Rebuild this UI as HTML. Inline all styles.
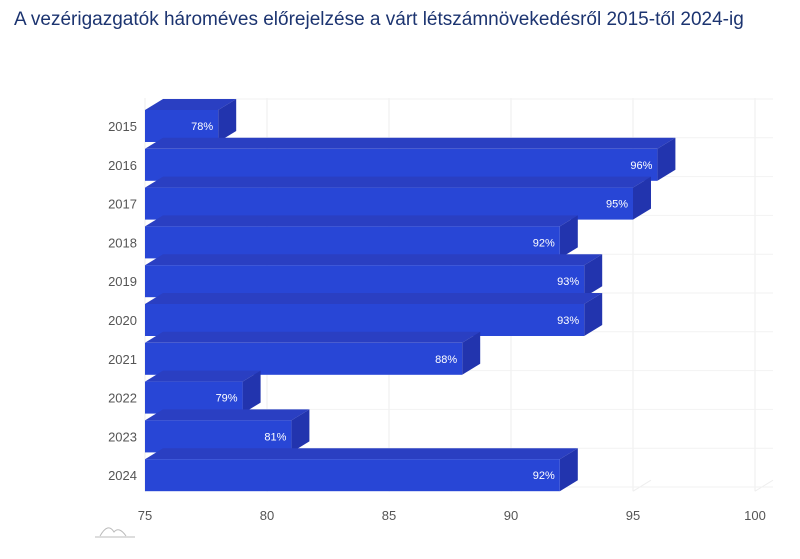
<!DOCTYPE html>
<html><head><meta charset="utf-8"><style>
body{margin:0;background:#fff;width:800px;height:559px;overflow:hidden;font-family:"Liberation Sans",sans-serif}
#title{position:absolute;left:14px;top:9px;font-size:19px;color:#1c3470}
svg{position:absolute;left:0;top:0}
</style></head><body>
<div id="title">A vezérigazgatók hároméves előrejelzése a várt létszámnövekedésről 2015-től 2024-ig</div>
<svg id="chart" width="800" height="559"></svg>
<script>
const categories=["2015","2016","2017","2018","2019","2020","2021","2022","2023","2024"];
const values=[78,96,95,92,93,93,88,79,81,92];
const ticks=[75,80,85,90,95,100];
const NS="http://www.w3.org/2000/svg";
const svg=document.getElementById('chart');
const x0=145,x1=755,vmin=75,vmax=100;
const xs=v=>x0+(v-vmin)/(vmax-vmin)*(x1-x0);
const top0=110,pitch=38.8,bh=32,dx=18,dy=11;
function mk(t,a){const e=document.createElementNS(NS,t);for(const k in a)e.setAttribute(k,a[k]);svg.appendChild(e);return e;}
// grid
ticks.forEach(t=>{
 const g=mk('path',{d:`M${xs(t)},${top0+9*pitch+bh} L${xs(t)},${top0-12} M${xs(t)},${top0+9*pitch+bh} L${xs(t)+dx},${top0+9*pitch+bh-dy}`,stroke:'#eeeeee',fill:'none'});
 
 
 const l=mk('text',{x:xs(t),y:520,'text-anchor':'middle','font-size':13,fill:'#555'});
 l.textContent=t;
 
 
});
for(let i=0;i<=categories.length;i++){
 const y=top0-4+i*pitch;
 const h=mk('line',{x1:x0+dx,x2:x1+dx,y1:y-dy+4,y2:y-dy+4,stroke:'#f2f2f2'});
 
 
}
categories.forEach((c,i)=>{
 const y=top0+i*pitch,xe=xs(values[i]);
 const tl=mk('text',{x:137,y:y+bh/2+5,'text-anchor':'end','font-size':13,fill:'#555'});
 tl.textContent=c;
 
 
 const top=mk('polygon',{points:`${x0},${y} ${x0+dx},${y-dy} ${xe+dx},${y-dy} ${xe},${y}`,fill:'#2a3fc2'});
 
 
 const side=mk('polygon',{points:`${xe},${y} ${xe+dx},${y-dy} ${xe+dx},${y+bh-dy} ${xe},${y+bh}`,fill:'#2234ae'});
 
 
 const r=mk('rect',{x:x0,y:y,width:xe-x0,height:bh,fill:'#2846d6'});
 
 
 const v=mk('text',{x:xe-5,y:y+bh/2+4,'text-anchor':'end','font-size':11,fill:'#fff'});
 v.textContent=values[i]+'%';
 
 
});
const logo=mk('path',{d:'M95,537 L135,537 M100,536 Q108,522 114,532 Q119,526 126,536',stroke:'#bbb',fill:'none'});


</script>
</body></html>
